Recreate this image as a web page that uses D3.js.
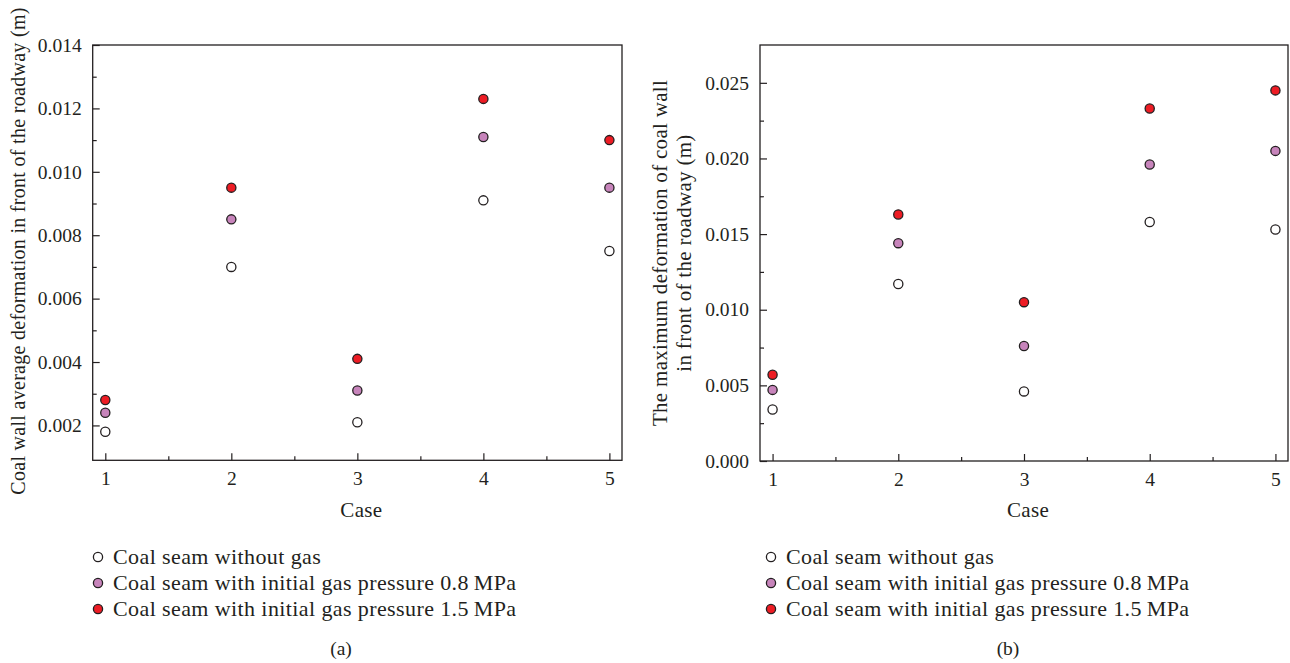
<!DOCTYPE html>
<html>
<head>
<meta charset="utf-8">
<script src="https://cdn.jsdelivr.net/npm/d3@7"></script>
<style>
  html, body { margin: 0; padding: 0; background: #fff; }
  svg { display: block; }
  text { font-family: "Liberation Serif", "DejaVu Serif", serif; fill: #231f20; }
</style>
</head>
<body>
<svg id="chart" width="1290" height="663"></svg>
<script>
// Cases along the x axis
const cases = [1, 2, 3, 4, 5];

// Panel (a): average deformation of the coal wall (m)
const avgNoGas   = [0.0018, 0.0070, 0.0021, 0.0091, 0.0075];
const avgGas08   = [0.0024, 0.0085, 0.0031, 0.0111, 0.0095];
const avgGas15   = [0.0028, 0.0095, 0.0041, 0.0123, 0.0110];

// Panel (b): maximum deformation of the coal wall (m)
const maxNoGas   = [0.0034, 0.0117, 0.0046, 0.0158, 0.0153];
const maxGas08   = [0.0047, 0.0144, 0.0076, 0.0196, 0.0205];
const maxGas15   = [0.0057, 0.0163, 0.0105, 0.0233, 0.0245];

// Tick labels
const xTicks  = [1, 2, 3, 4, 5];
const yTicksA = [0.002, 0.004, 0.006, 0.008, 0.010, 0.012, 0.014];
const yTicksB = [0.000, 0.005, 0.010, 0.015, 0.020, 0.025];

const seriesNames = [
  "Coal seam without gas",
  "Coal seam with initial gas pressure 0.8\u2009MPa",
  "Coal seam with initial gas pressure 1.5\u2009MPa"
];
const seriesFill = ["#ffffff", "#c784bb", "#ed1c24"];
const ink = "#231f20";

const svg = d3.select("#chart");

function panel(opt) {
  const g = svg.append("g");
  const x = d3.scaleLinear().domain([0.9, 5.1]).range([opt.left, opt.right]);
  const y = d3.scaleLinear().domain(opt.yDomain).range([opt.bottom, opt.top]);

  // frame
  g.append("rect")
    .attr("x", opt.left).attr("y", opt.top)
    .attr("width", opt.right - opt.left).attr("height", opt.bottom - opt.top)
    .attr("fill", "none").attr("stroke", ink).attr("stroke-width", 1.3);

  // x axis: major ticks on cases, minor ticks halfway, pointing inward
  const xAxis = g.append("g").attr("transform", `translate(0,${opt.bottom})`)
    .call(d3.axisBottom(x).tickValues(xTicks).tickSize(-7).tickPadding(11).tickFormat(d3.format("d")));
  const xMinor = g.append("g").attr("transform", `translate(0,${opt.bottom})`)
    .call(d3.axisBottom(x).tickValues([1.5, 2.5, 3.5, 4.5]).tickSize(-4).tickFormat(""));

  // y axis: major and minor ticks pointing inward
  const yAxis = g.append("g").attr("transform", `translate(${opt.left},0)`)
    .call(d3.axisLeft(y).tickValues(opt.yTicks).tickSize(-7).tickPadding(11).tickFormat(d3.format(".3f")));
  const yMinor = g.append("g").attr("transform", `translate(${opt.left},0)`)
    .call(d3.axisLeft(y).tickValues(opt.yMinor).tickSize(-4).tickFormat(""));

  [xAxis, xMinor, yAxis, yMinor].forEach(a => {
    a.select(".domain").remove();
    a.selectAll(".tick line").attr("stroke", ink).attr("stroke-width", 1.2);
    a.selectAll("text").attr("font-size", 19.5).attr("fill", ink)
      .attr("font-family", "Liberation Serif, DejaVu Serif, serif");
  });

  // axis titles
  g.append("text")
    .attr("x", (opt.left + opt.right) / 2 + 4).attr("y", 517)
    .attr("text-anchor", "middle").attr("font-size", 21).attr("letter-spacing", 0.3).text("Case");

  opt.yTitle.forEach((line, i) => {
    g.append("text")
      .attr("transform", `translate(${opt.yTitleX[i]},${opt.yTitleY}) rotate(-90)`)
      .attr("text-anchor", "middle").attr("font-size", opt.yTitleSize)
      .attr("letter-spacing", 0.3).text(line);
  });

  // points
  opt.series.forEach((vals, s) => {
    g.append("g").selectAll("circle")
      .data(vals.map((v, i) => ({ c: cases[i], v })))
      .join("circle")
      .attr("cx", d => x(d.c)).attr("cy", d => y(d.v)).attr("r", 4.6)
      .attr("fill", seriesFill[s]).attr("stroke", ink).attr("stroke-width", 1.3);
  });

  // legend
  seriesNames.forEach((name, s) => {
    const ly = 557 + s * 26;
    g.append("circle").attr("cx", opt.legendX).attr("cy", ly).attr("r", 4.6)
      .attr("fill", seriesFill[s]).attr("stroke", ink).attr("stroke-width", 1.3);
    g.append("text").attr("x", opt.legendX + 15).attr("y", ly + 7)
      .attr("font-size", 22).attr("letter-spacing", 0.4).text(name);
  });

  // panel tag
  g.append("text").attr("x", opt.tagX).attr("y", 655)
    .attr("text-anchor", "middle").attr("font-size", 19.5).text(opt.tag);
}

panel({
  left: 92.7, right: 622, top: 45, bottom: 460.3,
  yDomain: [0.0009, 0.014],
  yTicks: yTicksA,
  yMinor: [0.003, 0.005, 0.007, 0.009, 0.011, 0.013],
  yTitle: ["Coal wall average deformation in front of the roadway (m)"],
  yTitleX: [25], yTitleY: 251, yTitleSize: 20,
  series: [avgNoGas, avgGas08, avgGas15],
  legendX: 98, tagX: 341, tag: "(a)"
});

panel({
  left: 760, right: 1288, top: 45, bottom: 461,
  yDomain: [0, 0.0275],
  yTicks: yTicksB,
  yMinor: [0.0025, 0.0075, 0.0125, 0.0175, 0.0225],
  yTitle: ["The maximum deformation of coal wall", "in front of the roadway (m)"],
  yTitleX: [667, 691], yTitleY: 253, yTitleSize: 21,
  series: [maxNoGas, maxGas08, maxGas15],
  legendX: 771, tagX: 1008, tag: "(b)"
});
</script>
</body>
</html>
